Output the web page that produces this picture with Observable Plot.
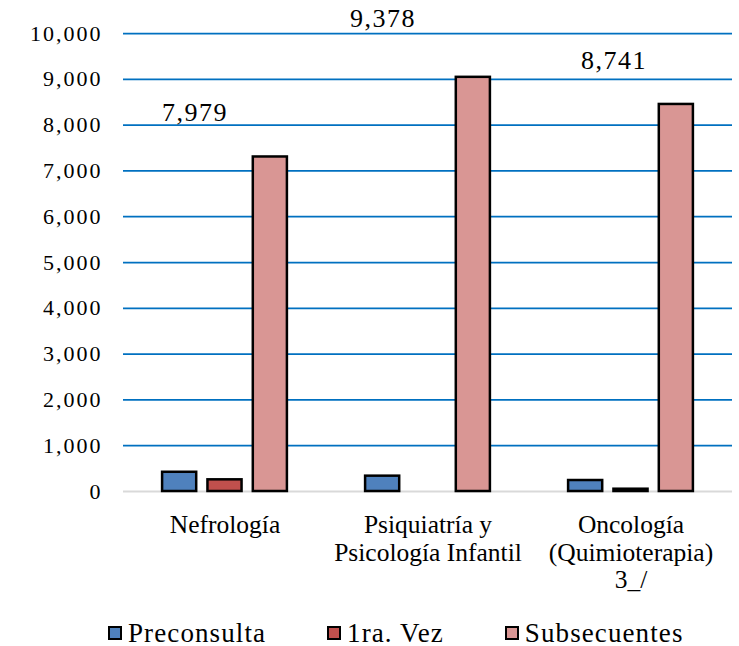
<!DOCTYPE html>
<html>
<head>
<meta charset="utf-8">
<script src="https://cdn.jsdelivr.net/npm/d3@7"></script>
<script src="https://cdn.jsdelivr.net/npm/@observablehq/plot@0.6"></script>
<style>
  html, body { margin: 0; padding: 0; background: #fff; }
  #chart svg { display: block; }
  [aria-label="y-axis tick label"] text { letter-spacing: 2px; }
  .total-label text { letter-spacing: 1.5px; }
  #legend { display: flex; align-items: center; padding-left: 108px; margin-top: 18px; height: 30px;
            font-family: "Liberation Serif", serif; font-size: 27px; letter-spacing: 1.1px; color: #000;
            white-space: nowrap; }
  #legend .item { display: flex; align-items: center; margin-right: 61px; flex-shrink: 0; white-space: nowrap; }
  #legend .item:last-child { margin-right: 0; }
  #legend .sw { width: 10px; height: 10px; border: 2px solid #000; margin-right: 6px; flex-shrink: 0; }
</style>
</head>
<body>
<div id="chart"></div>
<div id="legend"></div>
<script>
const categories = ["Nefrología", "Psiquiatría y\nPsicología Infantil", "Oncología\n(Quimioterapia)\n3_/"];
const series = ["Preconsulta", "1ra. Vez", "Subsecuentes"];
const preconsulta = [420, 335, 240];
const primeraVez = [255, 0, 50];
const subsecuentes = [7304, 9043, 8451];
const totals = [7979, 9378, 8741];
const yTicks = [0, 1000, 2000, 3000, 4000, 5000, 6000, 7000, 8000, 9000, 10000];
const colors = ["#4F81BD", "#C0504D", "#D99694"];

const seriesValues = [preconsulta, primeraVez, subsecuentes];
const rows = [];
categories.forEach((c, i) => {
  series.forEach((s, j) => {
    rows.push({category: c, series: s, value: seriesValues[j][i]});
  });
});
const bars = rows.filter(d => d.value > 0);
const totalRows = categories.map((c, i) => ({category: c, total: totals[i]}));
const fmt = d3.format(",");

const totalMark = (i, dx, dy) => Plot.text([totalRows[i]], {
  fx: "category", y: "total", text: d => fmt(d.total),
  dx, dy, fontSize: 26, fill: "#000", className: "total-label"
});

const chart = Plot.plot({
  width: 739,
  height: 600,
  marginLeft: 122,
  marginRight: 6,
  marginTop: 33,
  marginBottom: 109,
  style: {fontFamily: "'Liberation Serif', serif", fontSize: "22px", color: "#000", background: "#fff"},
  fx: {domain: categories, padding: 0, axis: null, label: null},
  x: {domain: series, axis: null, paddingInner: 0.248, paddingOuter: 0.862, round: false},
  y: {domain: [0, 10000], axis: null, label: null},
  color: {domain: series, range: colors},
  marks: [
    Plot.ruleY(yTicks.filter(d => d > 0), {stroke: "#0070C0", strokeWidth: 1.75}),
    Plot.ruleY([0], {stroke: "#D9D9D9", strokeWidth: 2}),
    Plot.barY(bars, {fx: "category", x: "series", y: "value", fill: "series", stroke: "#000", strokeWidth: 2.5}),
    Plot.axisY({ticks: yTicks, tickSize: 0, tickPadding: 21, tickFormat: fmt, fontSize: 22, label: null}),
    Plot.axisFx({anchor: "bottom", tickSize: 0, tickPadding: 22, fontSize: 25.5, lineHeight: 1.08, label: null}),
    totalMark(0, -30, -13),
    totalMark(1, -45, -43),
    totalMark(2, -17, -30)
  ]
});
document.getElementById("chart").appendChild(chart);

const legend = document.getElementById("legend");
series.forEach((s, j) => {
  const item = document.createElement("div");
  item.className = "item";
  const sw = document.createElement("span");
  sw.className = "sw";
  sw.style.background = colors[j];
  const label = document.createElement("span");
  label.textContent = s;
  item.appendChild(sw);
  item.appendChild(label);
  legend.appendChild(item);
});
</script>
</body>
</html>
